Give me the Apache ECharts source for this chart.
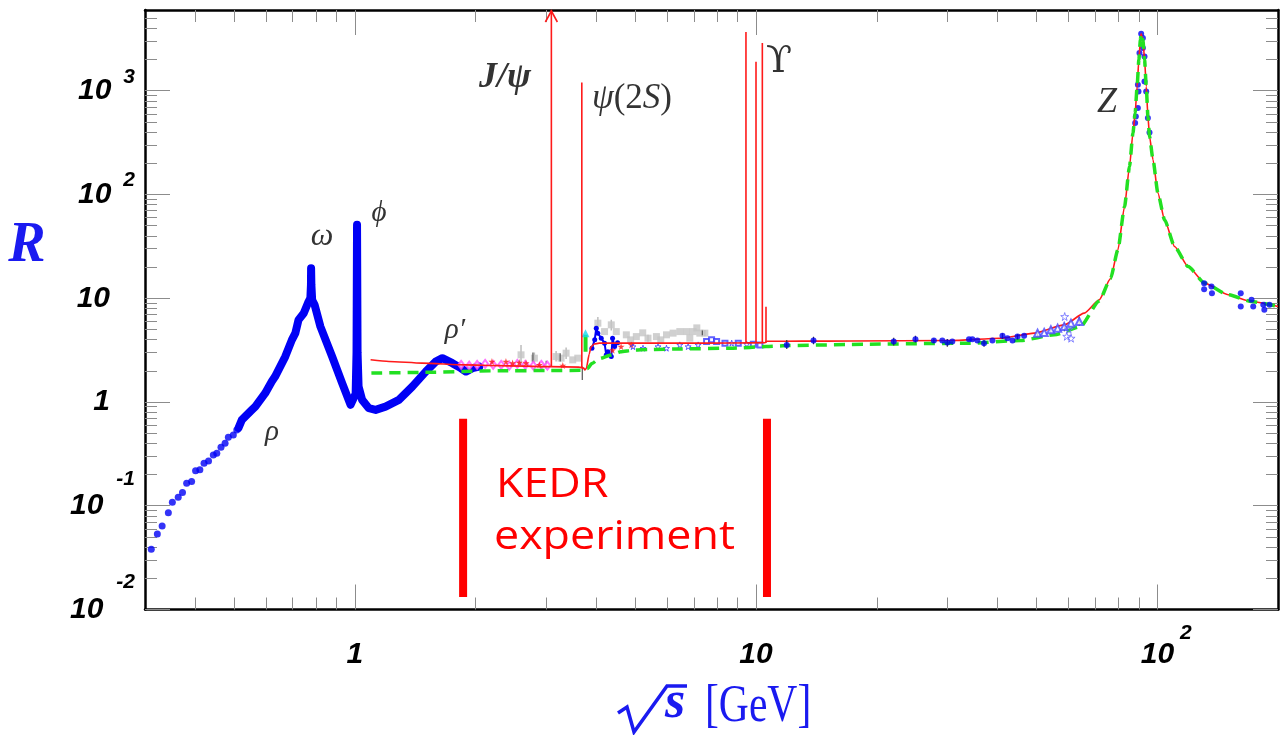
<!DOCTYPE html>
<html>
<head>
<meta charset="utf-8">
<title>R ratio vs sqrt(s)</title>
<script src="https://cdn.jsdelivr.net/npm/echarts@6/dist/echarts.min.js"></script>
<style>
  html, body { margin: 0; padding: 0; background: #ffffff; }
  #chart { width: 1281px; height: 735px; }
</style>
</head>
<body>
<div id="chart"></div>
<script>
// ---------- axis ranges and tick values ----------
const X_MIN = 0.3, X_MAX = 200;
const Y_MIN = 0.01, Y_MAX = 6000;
const xMajorTicks = [1, 10, 100];
const xMinorTicks = [0.4, 0.5, 0.6, 0.7, 0.8, 0.9, 2, 3, 4, 5, 6, 7, 8, 9,
                     20, 30, 40, 50, 60, 70, 80, 90];
const yMajorTicks = [0.01, 0.1, 1, 10, 100, 1000];
const yMinorTicks = [0.02, 0.03, 0.04, 0.05, 0.06, 0.07, 0.08, 0.09,
                     0.2, 0.3, 0.4, 0.5, 0.6, 0.7, 0.8, 0.9,
                     2, 3, 4, 5, 6, 7, 8, 9,
                     20, 30, 40, 50, 60, 70, 80, 90,
                     200, 300, 400, 500, 600, 700, 800, 900,
                     2000, 3000, 4000, 5000];

// ---------- low-energy e+e- -> hadrons data ----------
// isolated points below the rho
const lowEnergyDots = [
  [0.311, 0.0381], [0.322, 0.0535], [0.331, 0.0638], [0.343, 0.0858], [0.351, 0.108],
  [0.363, 0.121], [0.372, 0.134], [0.381, 0.165], [0.392, 0.171], [0.401, 0.218],
  [0.411, 0.222], [0.421, 0.257], [0.432, 0.270], [0.444, 0.309], [0.453, 0.321],
  [0.464, 0.367], [0.475, 0.401], [0.484, 0.458], [0.498, 0.482], [0.508, 0.538]
];
// dense measurements through rho / omega / phi / rho'
const lowEnergyBand = [
  [0.513, 0.562], [0.523, 0.672], [0.554, 0.839], [0.565, 0.903], [0.598, 1.216],
  [0.621, 1.573], [0.633, 1.758], [0.671, 2.74], [0.697, 3.97], [0.711, 4.61],
  [0.724, 6.19], [0.746, 7.18], [0.767, 9.29], [0.775, 10.0], [0.7776, 13.5],
  [0.7782, 19.5], [0.7795, 13.5], [0.783, 9.6], [0.794, 8.64], [0.821, 5.33],
  [0.878, 2.74], [0.930, 1.518], [0.976, 0.938], [0.985, 0.903], [1.005, 1.2],
  [1.010, 3.0], [1.013, 51], [1.016, 3.0], [1.022, 1.41], [1.043, 1.048],
  [1.084, 0.871], [1.127, 0.839], [1.193, 0.903], [1.288, 1.048], [1.391, 1.408],
  [1.503, 1.964], [1.591, 2.453], [1.653, 2.645], [1.751, 2.366], [1.838, 2.118],
  [1.892, 1.964], [1.965, 2.118], [2.042, 2.195]
];

// ---------- intermediate-energy data sets ----------
const pinkDiamonds = [
  [1.841, 2.28], [1.928, 2.24], [2.018, 2.28], [2.113, 2.33], [2.213, 2.28], [2.317, 2.28],
  [2.427, 2.24], [2.541, 2.33], [2.661, 2.28], [2.786, 2.24], [2.917, 2.28], [3.020, 2.24]
];
const redStars = [
  [2.197, 2.45], [2.381, 2.45], [2.474, 2.37], [2.570, 2.40], [2.672, 2.37], [2.884, 2.28],
  [3.30, 2.25], [4.39, 3.16], [4.61, 3.42], [4.89, 3.55]
];
const grayPoints = [
  [2.596, 2.85], [2.803, 2.645], [3.175, 2.74], [3.267, 2.645], [3.363, 2.955], [3.493, 2.547],
  [3.595, 2.645], [4.035, 5.75], [4.193, 4.77], [4.358, 5.54], [4.485, 4.77], [4.751, 4.44],
  [4.87, 3.97], [5.032, 4.27], [5.22, 4.64], [5.38, 4.12], [5.647, 4.27], [5.79, 3.97],
  [5.982, 4.44], [6.213, 4.61], [6.457, 4.77], [6.711, 4.77], [6.84, 4.12], [6.972, 4.77],
  [7.12, 5.18], [7.244, 4.61], [7.456, 4.61]
];
const grayErrors = [
  [2.596, 2.28, 3.55], [2.803, 2.30, 3.00], [3.175, 2.45, 3.10], [3.363, 2.60, 3.35],
  [4.035, 5.00, 6.60], [4.358, 4.90, 6.20], [5.38, 3.80, 4.45], [7.456, 4.30, 4.95]
];
const darkErrors = [
  [2.78, 2.40, 3.00], [3.00, 2.10, 2.50], [3.25, 2.45, 2.95], [3.69, 1.63, 2.20], [7.35, 4.40, 4.90]
];
const charmScan = [
  [3.90, 3.30], [3.963, 3.97], [3.998, 5.15], [4.034, 4.61], [4.114, 4.12], [4.193, 3.69],
  [4.234, 2.84], [4.273, 3.05], [4.358, 2.74], [4.39, 4.12], [4.442, 3.42], [4.519, 3.73]
];
const cyanTriangles = [[3.758, 4.61]];
const greenBars = [[3.76, 3.05, 4.44]];
const blueOpenStars = [
  [4.935, 3.42], [5.228, 3.30], [5.699, 3.42], [5.982, 3.30], [6.457, 3.55], [6.773, 3.42],
  [7.175, 3.55], [8.697, 3.69], [9.479, 3.61]
];
const blueOpenSquares = [
  [7.530, 3.82], [7.750, 3.97], [7.976, 3.82], [8.368, 3.69], [9.033, 3.69], [9.846, 3.61],
  [10.23, 3.55]
];

// ---------- high-energy data sets ----------
const highEnergyPoints = [
  [11.93, 3.55], [13.91, 3.91], [22.04, 3.82], [24.97, 4.03], [27.75, 3.91], [29.13, 3.91],
  [29.98, 3.74], [30.85, 3.82], [33.95, 4.03], [34.62, 4.03], [35.63, 3.91], [37.01, 3.69],
  [38.84, 3.91], [41.14, 4.34], [42.34, 4.12], [43.58, 3.91], [44.85, 4.27], [46.59, 4.34]
];
const highEnergyErrors = [
  [11.93, 3.25, 3.95], [13.91, 3.60, 4.25], [22.04, 3.50, 4.15], [24.97, 3.75, 4.35],
  [27.75, 3.70, 4.10], [29.98, 3.40, 4.05], [37.01, 3.40, 3.95], [41.14, 4.05, 4.60],
  [44.85, 4.00, 4.50], [50.3, 4.30, 4.90], [54.3, 4.60, 5.30], [58.7, 4.80, 5.80],
  [63.9, 5.40, 6.60]
];
const openTriangles = [
  [50.32, 4.61], [52.27, 4.67], [54.33, 4.96], [56.47, 5.15], [58.65, 5.33], [60.95, 5.75],
  [63.93, 5.96]
];
const openStarsZ = [[58.8, 6.66], [59.5, 4.30], [60.2, 5.00], [61.0, 4.12]];
const zPeakPoints = [
  [91.2, 3545], [92.1, 3221], [90.31, 2310], [92.1, 2581], [92.96, 2142], [89.49, 1142],
  [89.8, 985], [92.96, 1229], [93.87, 985], [89.49, 681], [88.46, 565], [88.1, 488],
  [94.79, 546], [95.67, 396]
];
const tailPoints = [
  [130.9, 13.98], [130.9, 12.24], [136.5, 12.97], [136.9, 11.2], [161.5, 11.2], [161.5, 8.32],
  [171.8, 9.65], [173.5, 8.32], [183.8, 8.64], [184.9, 7.73], [190.5, 8.64]
];

// ---------- model curves ----------
const theoryCurve = [
  [1.095, 2.55], [1.216, 2.46], [1.472, 2.37], [1.891, 2.28], [2.291, 2.24], [3.055, 2.19],
  [3.63, 2.17], [3.72, 2.12], [3.745, 2.04], [3.775, 2.10], [3.84, 2.90], [3.88, 3.40],
  [3.95, 3.62], [4.07, 3.69], [6.0, 3.69], [8.8, 3.70], [10.5, 3.72], [10.65, 3.85],
  [13.0, 3.86], [17.2, 3.87], [30.5, 3.91], [40.7, 4.12], [49.4, 4.61], [58.7, 5.54],
  [65.8, 7.18], [71.7, 9.65], [76.5, 15.5], [79.8, 29.3], [82.9, 76.6], [85.3, 186],
  [87.0, 391], [88.1, 609], [89.1, 1100], [90.0, 1990], [90.8, 3100], [91.2, 3545],
  [92.1, 3100], [93.0, 1990], [93.9, 1100], [94.8, 565], [95.7, 362], [97.6, 216],
  [100.4, 103], [104.3, 57], [110.5, 31.5], [119.4, 20.2], [131.3, 14.0], [150.2, 10.8],
  [171.8, 9.29], [200, 8.32]
];
const pqcdCurve = [
  [1.10, 1.90], [1.5, 1.93], [2.3, 2.00], [3.0, 2.01], [3.70, 2.02], [3.80, 2.10],
  [3.90, 2.35], [4.07, 2.62], [4.35, 2.83], [4.6, 3.05], [4.94, 3.16], [5.4, 3.20],
  [6.5, 3.25], [8.77, 3.30], [10.6, 3.42], [12.0, 3.50], [19.2, 3.61], [34.1, 3.69],
  [45.6, 3.91], [55.4, 4.44], [64.3, 5.30], [71.7, 9.4], [76.5, 15.5], [79.8, 29.3],
  [82.9, 76.6], [85.3, 186], [87.0, 391], [88.1, 609], [89.1, 1100], [90.0, 1990],
  [90.8, 3100], [91.2, 3545], [92.1, 3100], [93.0, 1990], [93.9, 1100], [94.8, 565],
  [95.7, 362], [97.6, 216], [100.4, 103], [104.3, 57], [110.5, 31.5], [119.4, 20.2],
  [131.3, 14.0], [150.2, 10.8], [171.8, 9.29], [200, 8.32]
];

// narrow resonances: J/psi, psi(2S), Upsilon(1S..4S); null peak = runs off the top
const narrowMass = [3.09, 3.68, 9.44, 10.0, 10.37, 10.59];
const narrowBase = [2.19, 2.17, 3.70, 3.70, 3.72, 3.72];
const narrowPeak = [null, 1200, 3680, 1900, 2880, 8.3];

// KEDR energy range marks
const kedrRange = [1.862, 10.65];
const kedrBarSpan = [0.0132, 0.69];

// ---------- helpers ----------
const BLUE = '#0000f5';
const RED = '#ff1a1a';
const GREEN = '#22e022';
const frameLine = { show: true, onZero: false, lineStyle: { color: '#000', width: 2.5 } };
const tickGray = '#8c8c8c';

function logXAxis(position, ticks, len, showFrame, label) {
  return {
    type: 'log', logBase: 10, min: X_MIN, max: X_MAX, position, gridIndex: 0,
    axisLine: showFrame ? frameLine : { show: false, onZero: false },
    axisTick: { show: true, inside: true, length: len, customValues: ticks,
                lineStyle: { color: tickGray, width: 1 } },
    axisLabel: label || { show: false },
    splitLine: { show: false }, minorTick: { show: false }, minorSplitLine: { show: false },
    axisPointer: { show: false }, silent: true
  };
}
function logYAxis(position, ticks, len, showFrame, label) {
  return {
    type: 'log', logBase: 10, min: Y_MIN, max: Y_MAX, position, gridIndex: 0,
    axisLine: showFrame ? frameLine : { show: false, onZero: false },
    axisTick: { show: true, inside: true, length: len, customValues: ticks,
                lineStyle: { color: tickGray, width: 1 } },
    axisLabel: label || { show: false },
    splitLine: { show: false }, minorTick: { show: false }, minorSplitLine: { show: false },
    axisPointer: { show: false }, silent: true
  };
}

const numFont = { fontFamily: '"Liberation Sans", Arial, sans-serif', fontWeight: 'bold',
                  fontStyle: 'italic', color: '#000' };

const xLabel = {
  show: true, customValues: xMajorTicks, margin: 10,
  formatter: function (v) {
    const e = Math.round(Math.log10(v));
    if (e === 0) return '{n|1}';
    if (e === 1) return '{n|10}';
    return '{lp| }{n|10}{sx|' + e + '}';
  },
  rich: {
    n: Object.assign({ fontSize: 30, lineHeight: 70 }, numFont),
    lp: { width: 18, fontSize: 10, lineHeight: 10 },
    sx: Object.assign({ fontSize: 21, lineHeight: 21, padding: [0, 0, 42, 6] }, numFont)
  }
};
const yLabel = {
  show: true, customValues: yMajorTicks, margin: 10,
  formatter: function (v) {
    const e = Math.round(Math.log10(v));
    if (e === 0) return '{n|1}{tr| }';
    if (e === 1) return '{n|10}{tr| }';
    return '{n|10}{' + (e < 0 ? 'neg' : 'pos') + '|' + e + '}';
  },
  rich: {
    n: Object.assign({ fontSize: 30, lineHeight: 70 }, numFont),
    tr: { width: 25, fontSize: 10, lineHeight: 10 },
    pos: Object.assign({ fontSize: 21, lineHeight: 21, padding: [0, 0, 28, 12] }, numFont),
    neg: Object.assign({ fontSize: 21, lineHeight: 21, padding: [0, 0, 54, 13] }, numFont)
  }
};

function errorBars(name, data, color, width, z) {
  return {
    name, type: 'custom', xAxisIndex: 0, yAxisIndex: 0, data, z: z || 3, silent: true,
    encode: { x: 0, y: [1, 2] }, clip: true,
    renderItem: function (params, api) {
      const a = api.coord([api.value(0), api.value(1)]);
      const b = api.coord([api.value(0), api.value(2)]);
      return { type: 'line', shape: { x1: a[0], y1: a[1], x2: b[0], y2: b[1] },
               style: { stroke: color, lineWidth: width } };
    }
  };
}
function scatter(name, data, symbol, size, itemStyle, z) {
  return { name, type: 'scatter', xAxisIndex: 0, yAxisIndex: 0, data, symbol, symbolSize: size,
           itemStyle, z: z || 4, silent: true };
}
function curve(name, data, lineStyle, z, smooth) {
  return { name, type: 'line', xAxisIndex: 0, yAxisIndex: 0, data, symbol: 'none',
           showSymbol: false, lineStyle, z: z || 3, silent: true, clip: true,
           smooth: smooth || false, smoothMonotone: 'x' };
}

const starPath = 'path://M50,0 L61,35 L98,35 L68,57 L79,91 L50,70 L21,91 L32,57 L2,35 L39,35 Z';

const resonanceData = narrowMass.map((m, i) => [m, narrowBase[i],
  narrowPeak[i] === null ? Y_MAX : narrowPeak[i], narrowPeak[i] === null ? 1 : 0]);

const kedrSeries = kedrRange.map((x, i) => ({
  name: 'KEDR ' + i, type: 'line', xAxisIndex: 0, yAxisIndex: 0, symbol: 'none', silent: true,
  data: [[x, kedrBarSpan[0]], [x, kedrBarSpan[1]]],
  lineStyle: { color: '#ff0000', width: 8, cap: 'butt' }, z: 5
}));

// ---------- annotations ----------
const serif = '"Liberation Serif", "DejaVu Serif", serif';
function label(text, x, y, font, fill) {
  return { type: 'text', x, y, silent: true,
           style: { text, font, fill: fill || '#333', align: 'center', verticalAlign: 'middle' } };
}
const titleBlue = '#1a1af0';
const kedrFont = '40px "Open Sans", "DejaVu Sans", sans-serif';

const option = {
  animation: false,
  backgroundColor: '#ffffff',
  grid: { left: 145, top: 10, width: 1133, height: 599.5, containLabel: false, outerBoundsMode: 'none' },
  xAxis: [
    logXAxis('bottom', xMajorTicks, 25, true, xLabel),
    logXAxis('bottom', xMinorTicks, 12, false),
    logXAxis('top', xMajorTicks, 25, true),
    logXAxis('top', xMinorTicks, 12, false)
  ],
  yAxis: [
    logYAxis('left', yMajorTicks, 25, true, yLabel),
    logYAxis('left', yMinorTicks, 12, false),
    logYAxis('right', yMajorTicks, 25, true),
    logYAxis('right', yMinorTicks, 12, false)
  ],
  series: [
    ...kedrSeries,
    curve('low-energy data', lowEnergyBand,
          { color: BLUE, width: 8, cap: 'round', join: 'round' }, 3),
    scatter('low-energy points', lowEnergyDots, 'circle', 7, { color: BLUE }),
    scatter('Z peak', zPeakPoints, 'circle', 6, { color: BLUE }, 3),
    curve('R with resonances', theoryCurve, { color: RED, width: 1.6 }, 5, 0.2),
    {
      name: 'narrow resonances', type: 'custom', xAxisIndex: 0, yAxisIndex: 0, data: resonanceData,
      encode: { x: 0, y: [1, 2] }, z: 5, silent: true, clip: false,
      renderItem: function (params, api) {
        const a = api.coord([api.value(0), api.value(1)]);
        const b = api.coord([api.value(0), api.value(2)]);
        const children = [{ type: 'line', shape: { x1: a[0], y1: a[1], x2: b[0], y2: b[1] },
                            style: { stroke: RED, lineWidth: 1.6 } }];
        if (api.value(3) === 1) {
          children.push({ type: 'polyline',
            shape: { points: [[b[0] - 6, b[1] + 12], [b[0], b[1] + 1], [b[0] + 6, b[1] + 12]] },
            style: { stroke: RED, lineWidth: 1.6, fill: null } });
        }
        return { type: 'group', children };
      }
    },
    curve('pQCD', pqcdCurve, { color: GREEN, width: 3.5, type: [11, 7] }, 6, 0.2),
    errorBars('gray errors', grayErrors, '#bdbdbd', 1.5, 2),
    scatter('gray data', grayPoints, 'rect', 7, { color: '#c4c4c4' }, 2),
    errorBars('dark errors', darkErrors, '#555555', 1.2, 4),
    scatter('pink diamonds', pinkDiamonds, 'emptyDiamond', [6, 8],
            { color: '#ff4dff', borderWidth: 1.2 }, 4),
    scatter('red stars', redStars, starPath, 7, { color: '#ff1010' }, 4),
    {
      name: 'charm scan', type: 'line', xAxisIndex: 0, yAxisIndex: 0, data: charmScan,
      symbol: 'circle', symbolSize: 5, itemStyle: { color: BLUE },
      lineStyle: { color: BLUE, width: 2 }, z: 4, silent: true
    },
    errorBars('green bar', greenBars, '#22dd22', 4, 4),
    scatter('cyan triangles', cyanTriangles, 'triangle', 8, { color: '#18d8f0' }, 4),
    scatter('blue open stars', blueOpenStars, starPath, 6,
            { color: 'transparent', borderColor: '#3a3aff', borderWidth: 1 }, 4),
    scatter('blue open squares', blueOpenSquares, 'emptyRect', 5,
            { color: '#3a3aff', borderWidth: 1 }, 4),
    errorBars('high-energy errors', highEnergyErrors, '#333333', 1.2, 7),
    scatter('high-energy data', highEnergyPoints, 'circle', 6, { color: BLUE }, 7),
    scatter('open triangles', openTriangles, 'emptyTriangle', 7,
            { color: '#4a4aff', borderWidth: 1.2 }, 7),
    scatter('open stars', openStarsZ, starPath, 8,
            { color: 'transparent', borderColor: '#6a6aff', borderWidth: 1 }, 7),
    scatter('above Z', tailPoints, 'circle', 6, { color: BLUE }, 7)
  ],
  graphic: [
    // resonance names
    label('ω', 322, 237, 'italic 32px ' + serif),
    label('ϕ', 379, 213, 'italic 29px ' + serif),
    label('ρ', 272, 432, 'italic 29px ' + serif),
    label('ρ′', 455, 330, 'italic 29px ' + serif),
    label('J/ψ', 505, 78, 'bold italic 36px ' + serif),
    {
      type: 'text', x: 632, y: 99, silent: true,
      style: {
        text: '{i|ψ}{r|(2}{i|S}{r|)}', align: 'center', verticalAlign: 'middle',
        rich: {
          i: { fontFamily: serif, fontStyle: 'italic', fontSize: 35, fill: '#333' },
          r: { fontFamily: serif, fontSize: 35, fill: '#333' }
        }
      }
    },
    label('ϒ', 779, 62, '38px "DejaVu Serif", serif'),
    label('Z', 1107, 103, 'italic 36px ' + serif),
    // KEDR range caption
    { type: 'text', x: 496, y: 486, scaleX: 1.12, silent: true,
      style: { text: 'KEDR', font: kedrFont, fill: '#ff0000',
               align: 'left', verticalAlign: 'middle' } },
    { type: 'text', x: 494, y: 538, scaleX: 1.12, silent: true,
      style: { text: 'experiment', font: kedrFont, fill: '#ff0000',
               align: 'left', verticalAlign: 'middle' } },
    // y-axis title
    { type: 'text', x: 27, y: 247, silent: true,
      style: { text: 'R', font: 'bold italic 56px ' + serif, fill: titleBlue,
               align: 'center', verticalAlign: 'middle' } },
    // x-axis title: sqrt(s) [GeV]
    { type: 'polyline', silent: true,
      shape: { points: [[618, 713], [627, 707], [634, 732], [667, 686], [687, 686]] },
      style: { stroke: titleBlue, lineWidth: 3.5, fill: null, lineJoin: 'miter' } },
    { type: 'text', x: 675, y: 704, silent: true,
      style: { text: 's', font: 'bold italic 52px ' + serif, fill: titleBlue,
               align: 'center', verticalAlign: 'middle' } },
    { type: 'text', x: 705, y: 707, scaleX: 0.8, silent: true,
      style: { text: '[GeV]', font: '52px ' + serif, fill: titleBlue,
               align: 'left', verticalAlign: 'middle' } }
  ]
};

const chart = echarts.init(document.getElementById('chart'), null, { renderer: 'canvas' });
chart.setOption(option);
</script>
</body>
</html>
